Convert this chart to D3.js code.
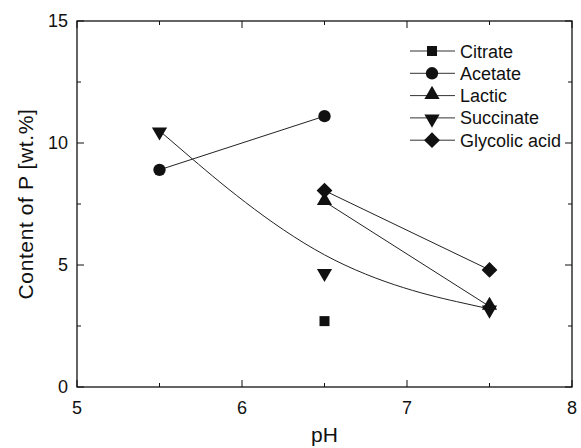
<!DOCTYPE html>
<html><head><meta charset="utf-8">
<script src="https://cdn.jsdelivr.net/npm/d3@7"></script>
<style>body{margin:0;background:#fff}svg{display:block}text{font-family:Arial,"Liberation Sans",sans-serif;fill:#111}</style>
</head><body><svg id="c" width="581" height="448"></svg>
<script>
const xTicks=[5,6,7,8];
const yTicks=[0,5,10,15];
const seriesNames=["Citrate","Acetate","Lactic","Succinate","Glycolic acid"];
const citrate=[[6.5,2.7]];
const acetate=[[5.5,8.9],[6.5,11.1]];
const lactic=[[6.5,7.6],[7.5,3.3]];
const succinate=[[5.5,10.5],[6.5,4.7],[7.5,3.2]];
const glycolic=[[6.5,8.05],[7.5,4.8]];

const svg=d3.select("#c");
const x=d3.scaleLinear().domain([5,8]).range([77,572]);
const y=d3.scaleLinear().domain([0,15]).range([387,21]);
const g=svg.append("g");

g.append("rect").attr("x",x(5)).attr("y",y(15)).attr("width",x(8)-x(5)).attr("height",y(0)-y(15))
 .attr("fill","none").attr("stroke","#111").attr("stroke-width",1.3);

const xMinor=d3.range(5,8.01,0.5), yMinor=d3.range(0,15.01,2.5);
xMinor.forEach(v=>{const L=(v%1===0)?7:4;
  g.append("line").attr("x1",x(v)).attr("x2",x(v)).attr("y1",y(0)).attr("y2",y(0)-L).attr("stroke","#111");
  g.append("line").attr("x1",x(v)).attr("x2",x(v)).attr("y1",y(15)).attr("y2",y(15)+L).attr("stroke","#111");});
yMinor.forEach(v=>{const L=(v%5===0)?7:4;
  g.append("line").attr("y1",y(v)).attr("y2",y(v)).attr("x1",x(5)).attr("x2",x(5)+L).attr("stroke","#111");
  g.append("line").attr("y1",y(v)).attr("y2",y(v)).attr("x1",x(8)).attr("x2",x(8)-L).attr("stroke","#111");});

xTicks.forEach(v=>g.append("text").attr("x",x(v)).attr("y",y(0)+27).attr("text-anchor","middle").attr("font-size",18).text(v));
yTicks.forEach(v=>g.append("text").attr("x",x(5)-9).attr("y",y(v)+6).attr("text-anchor","end").attr("font-size",18).text(v));

g.append("text").attr("x",x(6.5)).attr("y",442).attr("text-anchor","middle").attr("font-size",21).text("pH");
g.append("text").attr("transform",`translate(33,${(y(0)+y(15))/2}) rotate(-90)`).attr("text-anchor","middle").attr("font-size",21).attr("letter-spacing",0.6).text("Content of P [wt.%]");

const lineS=d3.line().x(d=>x(d[0])).y(d=>y(d[1]));
[acetate,lactic,glycolic].forEach(s=>g.append("path").attr("d",lineS(s)).attr("fill","none").attr("stroke","#222").attr("stroke-width",1));
g.append("path").attr("d",d3.line().x(d=>x(d[0])).y(d=>y(d[1])).curve(d3.curveBasis)(succinate)).attr("fill","none").attr("stroke","#222").attr("stroke-width",1);

const symTypes=[d3.symbolSquare,d3.symbolCircle,d3.symbolTriangle,d3.symbolTriangle,d3.symbolSquare];
const symSizes=[100,120,100,100,125];
const rot=[0,0,0,180,45];
function mark(px,py,i){
  g.append("path").attr("d",d3.symbol().type(symTypes[i]).size(symSizes[i])())
   .attr("transform",`translate(${px},${py}) rotate(${rot[i]})`).attr("fill","#111");
}
[citrate,acetate,lactic,succinate,glycolic].forEach((s,i)=>s.forEach(d=>mark(x(d[0]),y(d[1])+(i===2?-1:i===3?1:0),i)));

seriesNames.forEach((n,i)=>{
  const ly=51+i*22.3;
  g.append("line").attr("x1",410).attr("x2",455).attr("y1",ly).attr("y2",ly).attr("stroke","#333").attr("stroke-width",1);
  mark(432,ly+(i===2?-1:i===3?1:0),i);
  g.append("text").attr("x",460).attr("y",ly+6.5).attr("font-size",18).text(n);
});
</script></body></html>
